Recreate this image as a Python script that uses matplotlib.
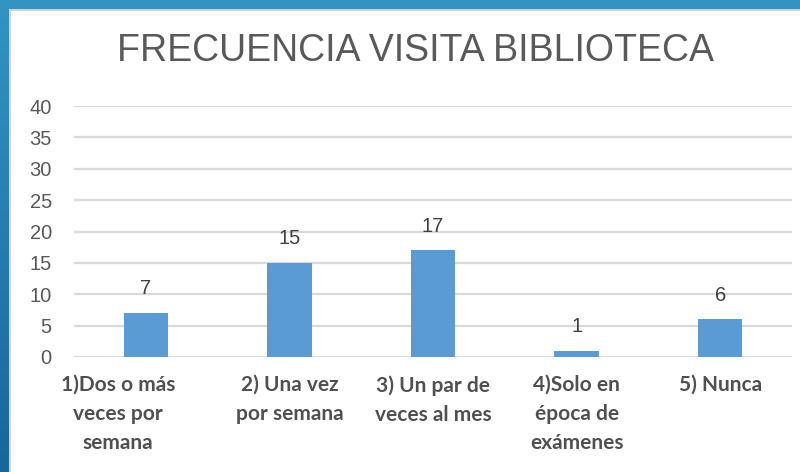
import matplotlib
matplotlib.use("Agg")
import matplotlib.pyplot as plt
import matplotlib.transforms as mtransforms
import numpy as np
from matplotlib.colors import LinearSegmentedColormap

# --- DATA ---
categories = [
    "1)Dos o más\nveces por\nsemana",
    "2) Una vez\npor semana",
    "3) Un par de\nveces al mes",
    "4)Solo en\népoca de\nexámenes",
    "5) Nunca",
]
values = [7, 15, 17, 1, 6]
yticks = [0, 5, 10, 15, 20, 25, 30, 35, 40]

TXT = "#595959"
BAR = "#5b9bd5"
GRID = "#d9d9d9"

fig = plt.figure(figsize=(8, 4.72), dpi=100)
fig.patch.set_facecolor("white")

# --- blue frame (top + left bands) ---
W, H = 800, 472
bg = fig.add_axes([0, 0, 1, 1], zorder=-10)
bg.set_xlim(0, W); bg.set_ylim(H, 0); bg.axis("off")
cmap = LinearSegmentedColormap.from_list("frame", ["#3394c3", "#176799"])
grad = np.linspace(0, 1, 200).reshape(-1, 1)
bg.imshow(grad, cmap=cmap, extent=(0, 9, H, 0), aspect="auto")
bg.imshow(np.zeros((1, 2)), cmap=cmap, vmin=0, vmax=1, extent=(0, W, 9, 0), aspect="auto")
bg.fill_between([9, 11], 9, H, color="#d0d4d8", lw=0)
bg.fill_between([9, W], 9, 11, color="#d0d4d8", lw=0)

# --- chart ---
ax = fig.add_axes([74 / W, 1 - 357 / H, (792 - 74) / W, (357 - 106) / H])
x = np.arange(len(categories))
bars = ax.bar(x, values, width=0.31, color=BAR, zorder=3)
ax.set_xlim(-0.5, len(categories) - 0.5)
ax.set_ylim(0, 40)
ax.set_yticks(yticks)
ax.yaxis.grid(True, color=GRID, lw=1.6, zorder=0)
for s in ax.spines.values():
    s.set_visible(False)
ax.tick_params(axis="both", length=0)
ax.tick_params(axis="y", labelsize=14.5, labelcolor=TXT, pad=16)
for t in ax.get_yticklabels():
    t.set_family(["Liberation Sans", "DejaVu Sans"])
ax.set_xticks(x)
ax.set_xticklabels(categories, fontsize=15, fontweight="bold", color="#505050",
                   family=["Lato", "DejaVu Sans"], linespacing=1.56)
ax.tick_params(axis="x", pad=13)
# first label sits a bit left of its bar, like in the original
first = ax.get_xticklabels()[0]
first.set_transform(first.get_transform() +
                    mtransforms.ScaledTranslation(-0.28, 0, fig.dpi_scale_trans))

for xi, v in zip(x, values):
    ax.annotate(str(v), (xi, v), xytext=(0, 10.5), textcoords="offset points",
                ha="center", va="bottom", fontsize=14.5, color="#404040",
                family=["Liberation Sans", "DejaVu Sans"])

fig.text(415 / W, 1 - 51 / H, "FRECUENCIA VISITA BIBLIOTECA", ha="center", va="center",
         fontsize=27, color=TXT, family=["Liberation Sans", "DejaVu Sans"])

fig.savefig("out.png", dpi=100, facecolor="white")
